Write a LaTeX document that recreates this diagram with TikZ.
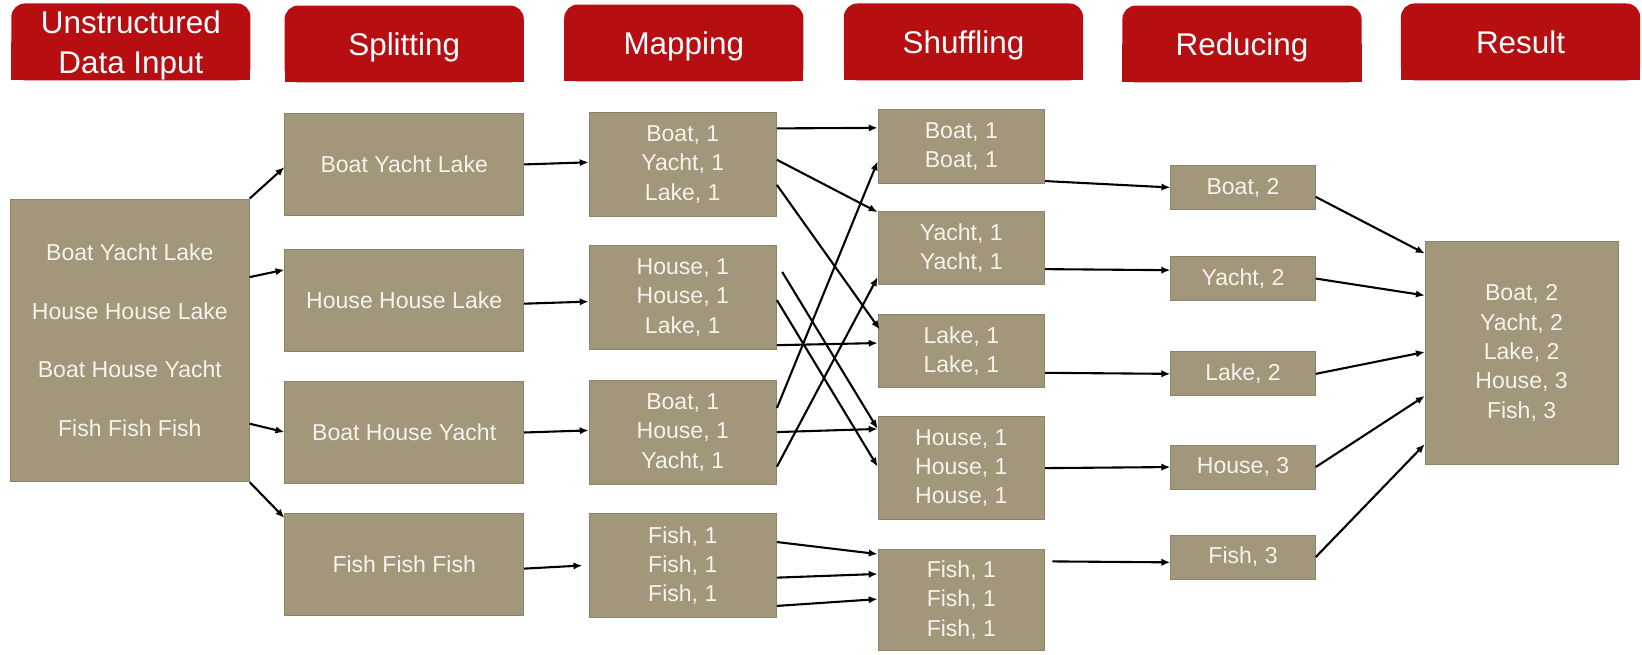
\documentclass[tikz,border=0pt]{standalone}
\usepackage{fontspec}
\setmainfont{Liberation Sans}
\usetikzlibrary{arrows.meta,calc}
\definecolor{hdrred}{HTML}{B70E11}
\definecolor{boxtan}{HTML}{A3977B}
\definecolor{boxedge}{HTML}{8E8369}
\definecolor{boxtext}{HTML}{F6F3EC}
\pgfdeclarelayer{bg}
\pgfsetlayers{bg,main}
\begin{document}
\begin{tikzpicture}[x=1pt,y=-1pt,
  hdr/.style={minimum width=228pt,minimum height=73pt,inner sep=0pt,text=white,
    text depth=-1pt,font=\fontsize{30}{38}\selectfont,align=center},
  box/.style={fill=boxtan,draw=boxedge,line width=0.8pt,inner sep=0pt,text=boxtext,
    font=\fontsize{22}{28}\selectfont,align=center},
  conn/.style={-{Latex[length=8.5pt,width=7pt]},line width=2pt,black}
]
\useasboundingbox (0,0) rectangle (1568,625);

% headers
\node[hdr] (H1) at (125,40) {Unstructured\\Data Input};
\node[hdr] (H2) at (386,42) {Splitting};
\node[hdr] (H3) at (653,41) {Mapping};
\node[hdr] (H4) at (920,40) {Shuffling};
\node[hdr] (H5) at (1186,42) {Reducing};
\node[hdr] (H6) at (1452,40) {Result};
\begin{pgfonlayer}{bg}
\foreach \h in {H1,H2,H3,H4,H5,H6}{
  \fill[hdrred,rounded corners=13pt] (\h.south west) rectangle (\h.north east);
  \fill[hdrred] (\h.south west) rectangle (\h.east);
}
\end{pgfonlayer}

% input
\node[box,minimum width=228pt,minimum height=270pt,font=\fontsize{22}{56}\selectfont] (In) at (124,325)
  {Boat Yacht Lake\\House House Lake\\Boat House Yacht\\Fish Fish Fish};

% splitting
\node[box,minimum width=228pt,minimum height=98pt] (S1) at (386,157) {Boat Yacht Lake};
\node[box,minimum width=228pt,minimum height=98pt] (S2) at (386,287) {House House Lake};
\node[box,minimum width=228pt,minimum height=98pt] (S3) at (386,413) {Boat House Yacht};
\node[box,minimum width=228pt,minimum height=98pt] (S4) at (386,539) {Fish Fish Fish};

% mapping
\node[box,minimum width=179pt,minimum height=100pt] (M1) at (652,157) {Boat, 1\\Yacht, 1\\Lake, 1};
\node[box,minimum width=179pt,minimum height=100pt] (M2) at (652,284) {House, 1\\House, 1\\Lake, 1};
\node[box,minimum width=179pt,minimum height=100pt] (M3) at (652,413) {Boat, 1\\House, 1\\Yacht, 1};
\node[box,minimum width=179pt,minimum height=100pt] (M4) at (652,540) {Fish, 1\\Fish, 1\\Fish, 1};

% shuffling
\node[box,minimum width=159pt,minimum height=71pt] (Sh1) at (918,140) {Boat, 1\\Boat, 1};
\node[box,minimum width=159pt,minimum height=70pt] (Sh2) at (918,237) {Yacht, 1\\Yacht, 1};
\node[box,minimum width=159pt,minimum height=70pt] (Sh3) at (918,335) {Lake, 1\\Lake, 1};
\node[box,minimum width=159pt,minimum height=98pt] (Sh4) at (918,447) {House, 1\\House, 1\\House, 1};
\node[box,minimum width=159pt,minimum height=97pt] (Sh5) at (918,573) {Fish, 1\\Fish, 1\\Fish, 1};

% reducing
\node[box,minimum width=138pt,minimum height=42pt] (R1) at (1187,179) {Boat, 2};
\node[box,minimum width=138pt,minimum height=42pt] (R2) at (1187,266) {Yacht, 2};
\node[box,minimum width=138pt,minimum height=42pt] (R3) at (1187,357) {Lake, 2};
\node[box,minimum width=138pt,minimum height=42pt] (R4) at (1187,446) {House, 3};
\node[box,minimum width=138pt,minimum height=42pt] (R5) at (1187,532) {Fish, 3};

% result
\node[box,minimum width=184pt,minimum height=213pt] (Res) at (1453,337)
  {Boat, 2\\Yacht, 2\\Lake, 2\\House, 3\\Fish, 3};

% input -> splitting
\draw[conn] (In.north east) -- ($(S1.north west)+(0,52)$);
\draw[conn] ($(In.north east)+(0,75)$) -- ($(S2.north west)+(0,20)$);
\draw[conn] ($(In.north east)+(0,215)$) -- ($(S3.north west)+(0,49)$);
\draw[conn] (In.south east) -- ($(S4.north west)+(0,5)$);

% splitting -> mapping
\draw[conn] (S1.east) -- ($(M1.west)+(0,-2)$);
\draw[conn] ($(S2.east)+(0,3)$) -- ($(M2.west)+(0,4)$);
\draw[conn] (S3.east) -- ($(M3.west)+(0,-2)$);
\draw[conn] ($(S4.east)+(0,4)$) -- ($(M4.west)+(-6,0)$);

% mapping -> shuffling
\draw[conn] ($(M1.north east)+(0,16)$) -- ($(Sh1.north west)+(0,18)$);
\draw[conn] ($(M1.north east)+(0,46)$) -- ($(Sh2.north west)+(0,1)$);
\draw[conn] ($(M1.north east)+(0,70)$) -- ($(Sh3.north west)+(2,15)$);
\draw[conn] ($(M2.north east)+(5,26)$) -- ($(Sh4.north west)+(0,12)$);
\draw[conn] ($(M2.north east)+(0,53)$) -- ($(Sh4.north west)+(0,48)$);
\draw[conn] ($(M2.north east)+(0,96)$) -- ($(Sh3.north west)+(0,28)$);
\draw[conn] ($(M3.north east)+(0,27)$) -- ($(Sh1.north west)+(0,50)$);
\draw[conn] ($(M3.north east)+(0,50)$) -- ($(Sh4.north west)+(0,12)$);
\draw[conn] ($(M3.north east)+(0,83)$) -- ($(Sh2.north west)+(0,63)$);
\draw[conn] ($(M4.north east)+(0,28)$) -- ($(Sh5.north west)+(0,5)$);
\draw[conn] ($(M4.north east)+(0,62)$) -- ($(Sh5.north west)+(0,24)$);
\draw[conn] ($(M4.north east)+(0,89)$) -- ($(Sh5.north west)+(0,48)$);

% shuffling -> reducing
\draw[conn] ($(Sh1.south east)+(0,-3)$) -- (R1.west);
\draw[conn] ($(Sh2.east)+(0,20)$) -- ($(R2.west)+(0,-8)$);
\draw[conn] ($(Sh3.east)+(0,21)$) -- (R3.west);
\draw[conn] (Sh4.east) -- (R4.west);
\draw[conn] ($(Sh5.north east)+(7,12)$) -- ($(R5.west)+(0,5)$);

% reducing -> result
\draw[conn] ($(R1.east)+(0,9)$) -- ($(Res.north west)+(0,12)$);
\draw[conn] (R2.east) -- ($(Res.north west)+(0,52)$);
\draw[conn] (R3.east) -- ($(Res.north west)+(0,106)$);
\draw[conn] (R4.east) -- ($(Res.north west)+(0,148)$);
\draw[conn] (R5.east) -- ($(Res.north west)+(0,194)$);
\end{tikzpicture}
\end{document}
